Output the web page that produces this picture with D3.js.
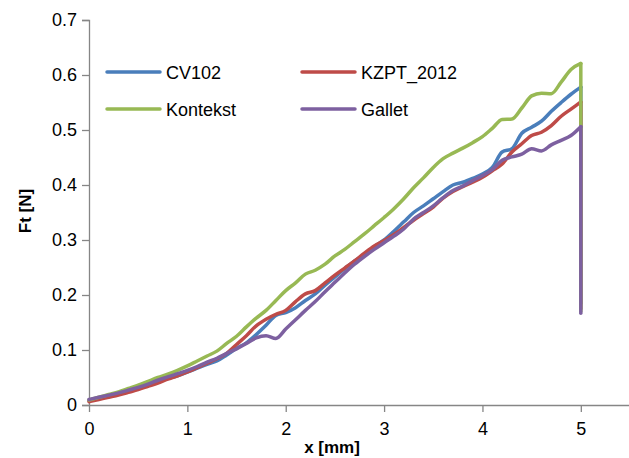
<!DOCTYPE html>
<html><head><meta charset="utf-8">
<script src="https://cdn.jsdelivr.net/npm/d3@7/dist/d3.min.js"></script>
<style>
html,body{margin:0;padding:0;background:#fff;}
svg{display:block;}
text{font-family:"Liberation Sans",Arial,sans-serif;fill:#000;}
</style></head>
<body>
<svg id="c" width="629" height="458"></svg>
<script>
// x positions [mm]
const xValues = [0,0.1,0.2,0.3,0.4,0.5,0.6,0.7,0.8,0.9,1.0,1.1,1.2,1.3,1.4,1.5,1.6,1.7,1.8,1.9,2.0,2.1,2.2,2.3,2.4,2.5,2.6,2.7,2.8,2.9,3.0,3.1,3.2,3.3,3.4,3.5,3.6,3.7,3.8,3.9,4.0,4.1,4.2,4.3,4.4,4.5,4.6,4.7,4.8,4.9,5.0];
const dropX = 5.0;
const seriesNames = ["CV102","KZPT_2012","Kontekst","Gallet"];
const cv102 = [0.008,0.012,0.016,0.020,0.025,0.030,0.036,0.042,0.048,0.053,0.060,0.067,0.074,0.080,0.091,0.103,0.113,0.128,0.145,0.163,0.168,0.177,0.190,0.202,0.218,0.233,0.248,0.262,0.274,0.288,0.300,0.316,0.333,0.350,0.362,0.375,0.388,0.400,0.405,0.412,0.420,0.432,0.460,0.466,0.494,0.505,0.516,0.534,0.550,0.565,0.578];
const kzpt2012 = [0.006,0.010,0.014,0.018,0.023,0.028,0.034,0.040,0.047,0.053,0.060,0.068,0.076,0.084,0.094,0.110,0.126,0.144,0.156,0.165,0.172,0.188,0.202,0.208,0.222,0.236,0.249,0.262,0.276,0.289,0.299,0.310,0.323,0.336,0.348,0.360,0.376,0.388,0.397,0.405,0.414,0.426,0.438,0.460,0.475,0.490,0.496,0.508,0.525,0.538,0.551];
const kontekst = [0.009,0.014,0.019,0.024,0.030,0.036,0.043,0.050,0.056,0.063,0.071,0.080,0.089,0.098,0.112,0.125,0.142,0.158,0.172,0.190,0.208,0.222,0.238,0.245,0.256,0.271,0.283,0.297,0.311,0.326,0.341,0.357,0.375,0.395,0.413,0.432,0.448,0.458,0.467,0.477,0.488,0.503,0.519,0.520,0.540,0.562,0.567,0.566,0.587,0.610,0.621];
const gallet = [0.010,0.014,0.018,0.022,0.027,0.032,0.038,0.045,0.051,0.057,0.063,0.070,0.078,0.085,0.094,0.102,0.112,0.122,0.126,0.121,0.138,0.155,0.172,0.188,0.206,0.223,0.240,0.256,0.270,0.283,0.295,0.307,0.320,0.338,0.350,0.362,0.377,0.390,0.398,0.408,0.417,0.428,0.445,0.451,0.456,0.466,0.462,0.473,0.481,0.490,0.506];
// value each curve falls to at the final drop (x = 5.0)
const dropValues = [0.185,0.175,0.170,0.167];
const seriesColors = ["#4A7EBB","#BE4B48","#98B954","#7D60A0"];
const xTicks = [0,1,2,3,4,5];
const yTicks = [0,0.1,0.2,0.3,0.4,0.5,0.6,0.7];

const seriesValues = [cv102, kzpt2012, kontekst, gallet];
const svg = d3.select("#c");
const x = d3.scaleLinear().domain([0,5.5]).range([89,630]);
const y = d3.scaleLinear().domain([0,0.7]).range([405,20]);
const axisColor = "#868686";
const tickFont = 18;

// y axis
const ya = svg.append("g").attr("transform","translate(89,0)")
  .call(d3.axisLeft(y).tickValues(yTicks).tickSize(7).tickPadding(5)
    .tickFormat(d => d===0 ? "0" : d3.format(".1f")(d)));
ya.select(".domain").attr("stroke",axisColor).attr("stroke-width",1.3);
ya.selectAll(".tick line").attr("stroke",axisColor).attr("stroke-width",1.3);
ya.selectAll(".tick text").attr("font-size",tickFont).attr("font-family","Liberation Sans, Arial, sans-serif").attr("fill","#000");

// x axis
const xa = svg.append("g").attr("transform","translate(0,405)")
  .call(d3.axisBottom(x).tickValues(xTicks).tickSize(7).tickPadding(10).tickSizeOuter(0)
    .tickFormat(d3.format("d")));
xa.select(".domain").attr("stroke",axisColor).attr("stroke-width",1.3);
xa.selectAll(".tick line").attr("stroke",axisColor).attr("stroke-width",1.3);
xa.selectAll(".tick text").attr("font-size",tickFont).attr("font-family","Liberation Sans, Arial, sans-serif").attr("fill","#000");

// lines
const line = d3.line().x((d,i)=>x(xValues[i])).y(d=>y(d)).curve(d3.curveMonotoneX);
seriesValues.forEach((vals,k)=>{
  const g = svg.append("g");
  g.append("path").datum(vals).attr("d",line)
    .attr("fill","none").attr("stroke",seriesColors[k])
    .attr("stroke-width",3.5).attr("stroke-linejoin","round").attr("stroke-linecap","round");
  g.append("line")
    .attr("x1",x(dropX)).attr("x2",x(dropX))
    .attr("y1",y(vals[vals.length-1])).attr("y2",y(dropValues[k]))
    .attr("stroke",seriesColors[k]).attr("stroke-width",3.5).attr("stroke-linecap","round");
});

// legend
const legPos = [[107,72],[302,72],[107,109],[302,109]];
seriesNames.forEach((n,k)=>{
  const [lx,ly] = legPos[k];
  svg.append("line").attr("x1",lx).attr("x2",lx+53).attr("y1",ly).attr("y2",ly)
    .attr("stroke",seriesColors[k]).attr("stroke-width",3.5).attr("stroke-linecap","round");
  svg.append("text").attr("x",lx+59).attr("y",ly+6.5).attr("font-size",18).text(n);
});

// axis titles
svg.append("text").attr("transform","translate(31,211) rotate(-90)")
  .attr("text-anchor","middle").attr("font-size",17).attr("font-weight","bold").text("Ft [N]");
svg.append("text").attr("x",332).attr("y",453)
  .attr("text-anchor","middle").attr("font-size",17).attr("font-weight","bold").text("x [mm]");
</script>
</body></html>
